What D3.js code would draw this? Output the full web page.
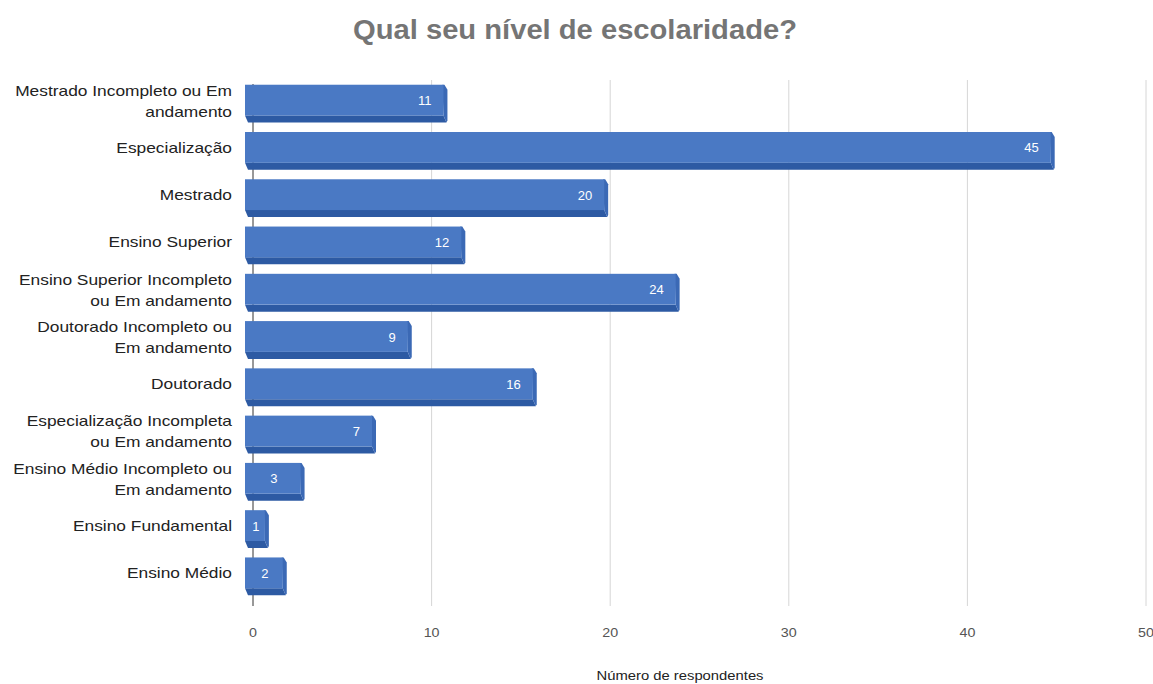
<!DOCTYPE html>
<html>
<head>
<meta charset="utf-8">
<script src="https://cdn.jsdelivr.net/npm/d3@7"></script>
<style>
  body { margin: 0; background: #fff; font-family: "Liberation Sans", Arial, sans-serif; }
</style>
</head>
<body>
<div id="chart"></div>
<script>
// data
var categories = [
    "Mestrado Incompleto ou Em andamento",
    "Especialização",
    "Mestrado",
    "Ensino Superior",
    "Ensino Superior Incompleto ou Em andamento",
    "Doutorado Incompleto ou Em andamento",
    "Doutorado",
    "Especialização Incompleta ou Em andamento",
    "Ensino Médio Incompleto ou Em andamento",
    "Ensino Fundamental",
    "Ensino Médio"
];
var labelLines = [
    ["Mestrado Incompleto ou Em", "andamento"],
    ["Especialização"],
    ["Mestrado"],
    ["Ensino Superior"],
    ["Ensino Superior Incompleto", "ou Em andamento"],
    ["Doutorado Incompleto ou", "Em andamento"],
    ["Doutorado"],
    ["Especialização Incompleta", "ou Em andamento"],
    ["Ensino Médio Incompleto ou", "Em andamento"],
    ["Ensino Fundamental"],
    ["Ensino Médio"]
];
var values = [11, 45, 20, 12, 24, 9, 16, 7, 3, 1, 2];
var xTicks = [0, 10, 20, 30, 40, 50];

var width = 1153, height = 684;
var margin = { top: 80, right: 7, bottom: 84, left: 253 };
var depth = 6;

var svg = d3.select("#chart").append("svg")
    .attr("width", width).attr("height", height);

var x = d3.scaleLinear().domain([0, 50]).range([margin.left, width - margin.right]);
var y = d3.scaleBand().domain(categories)
    .range([margin.top, height - margin.bottom]).paddingInner(0.2).paddingOuter(0.1);

// title (the source picture is a bit stretched sideways)
svg.append("text")
    .attr("transform", "translate(575,39) scale(1.08,1)")
    .attr("text-anchor", "middle")
    .style("font-size", "27px").style("font-weight", "bold")
    .style("fill", "#757575")
    .text("Qual seu nível de escolaridade?");

// gridlines
svg.append("g").selectAll("line")
    .data(xTicks.slice(1))
    .enter().append("line")
    .attr("x1", function(d) { return x(d); })
    .attr("x2", function(d) { return x(d); })
    .attr("y1", margin.top).attr("y2", height - margin.bottom + 6)
    .attr("stroke", "#d6d6d6").attr("stroke-width", 1);

// zero axis line
svg.append("line")
    .attr("x1", x(0)).attr("x2", x(0))
    .attr("y1", margin.top + 4).attr("y2", height - margin.bottom + 6)
    .attr("stroke", "#333").attr("stroke-width", 1);

// tick labels
svg.append("g").selectAll("text")
    .data(xTicks)
    .enter().append("text")
    .attr("transform", function(d) { return "translate(" + x(d) + ",637) scale(1.1,1)"; })
    .attr("text-anchor", "middle")
    .style("font-size", "13px").style("fill", "#555")
    .text(function(d) { return d; });

// axis title
svg.append("text")
    .attr("transform", "translate(680,680) scale(1.14,1)")
    .attr("text-anchor", "middle")
    .style("font-size", "13px").style("fill", "#222")
    .text("Número de respondentes");

// bars (pseudo 3D)
var bars = svg.append("g").selectAll("g")
    .data(values)
    .enter().append("g");

// bottom darker face
bars.append("path")
    .attr("fill", "#2d5aa3")
    .attr("d", function(d, i) {
        var y0 = y(categories[i]), h = y.bandwidth();
        var l = x(0) - 8, r = x(d) - depth;
        return "M" + l + "," + (y0 + h - 7) + "L" + r + "," + (y0 + h - 7) +
               "L" + (r + 3) + "," + (y0 + h) + "L" + (l + 3) + "," + (y0 + h) + "Z";
    });

// right side face
bars.append("path")
    .attr("fill", "#3b69b5")
    .attr("d", function(d, i) {
        var y0 = y(categories[i]), h = y.bandwidth();
        var r = x(d) - depth;
        return "M" + (r - 1) + "," + y0 + "L" + (r + 1) + "," + y0 +
               "L" + (r + 4) + "," + (y0 + 5) + "L" + (r + 4) + "," + (y0 + h - 2) +
               "L" + (r + 3) + "," + (y0 + h) + "L" + r + "," + (y0 + h - 7) + "Z";
    });

// front face
bars.append("rect")
    .attr("x", x(0) - 8)
    .attr("y", function(d, i) { return y(categories[i]); })
    .attr("width", function(d) { return Math.max(0, x(d) - x(0) + 2); })
    .attr("height", y.bandwidth() - 7)
    .attr("fill", "#4a79c4");

// value labels
bars.append("text")
    .attr("x", function(d) { return d < 4 ? (x(0) + x(d)) / 2 - 6 : x(d) - depth - 12; })
    .attr("y", function(d, i) { return y(categories[i]) + (y.bandwidth() - 7) / 2 + 5; })
    .attr("text-anchor", function(d) { return d < 4 ? "middle" : "end"; })
    .style("font-size", "13px").style("fill", "#fff")
    .text(function(d) { return d; });

// category labels
var cat = svg.append("g").selectAll("text")
    .data(categories)
    .enter().append("text")
    .attr("text-anchor", "end")
    .style("font-size", "14px").style("fill", "#222")
    .attr("transform", function(d, i) {
        var n = labelLines[i].length;
        var cy = y(d) + y.bandwidth() / 2 - 3 - (n - 1) * 10;
        return "translate(232," + cy + ") scale(1.24,1)";
    });

cat.selectAll("tspan")
    .data(function(d, i) { return labelLines[i]; })
    .enter().append("tspan")
    .attr("x", 0)
    .attr("dy", function(d, j) { return j === 0 ? "0.35em" : "21px"; })
    .text(function(d) { return d; });
</script>
</body>
</html>
